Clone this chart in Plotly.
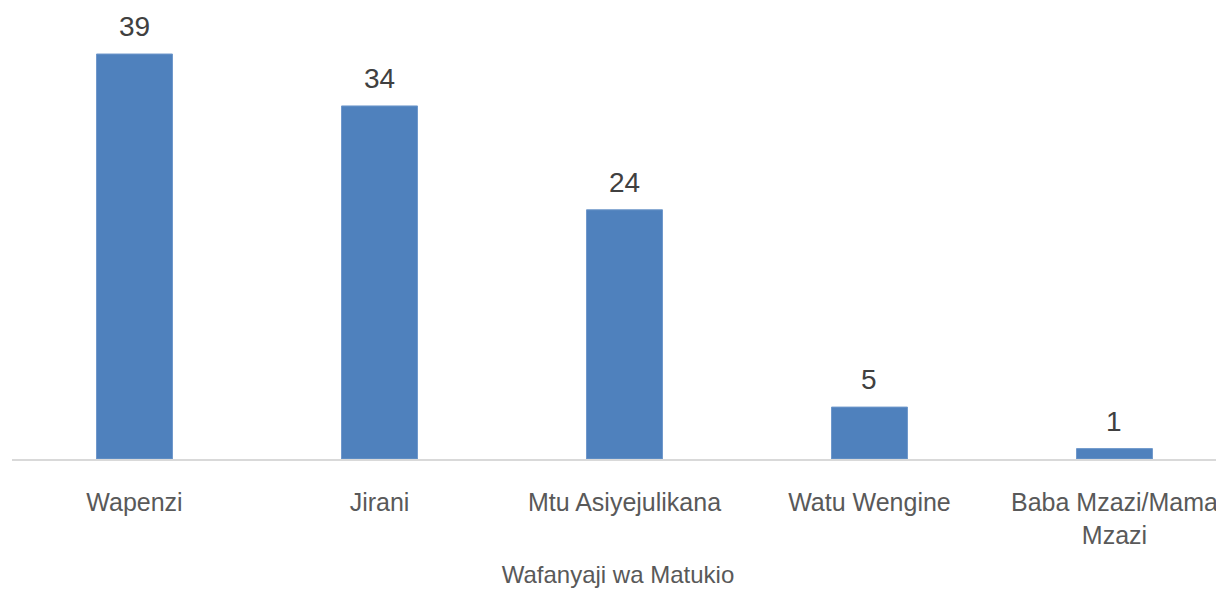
import plotly.graph_objects as go

categories = ["Wapenzi", "Jirani", "Mtu Asiyejulikana", "Watu Wengine", "Baba Mzazi/Mama<br>Mzazi"]
values = [39, 34, 24, 5, 1]
axis_title = "Wafanyaji wa Matukio"

FONT = "Liberation Sans, Arial, sans-serif"
TXT = "#595959"

fig = go.Figure()
fig.add_trace(go.Bar(
    x=categories, y=values, width=0.31,
    marker=dict(color="#4F81BD", line=dict(color="#6f98cb", width=1)),
    hoverinfo="skip",
))
for c, v in zip(categories, values):
    fig.add_annotation(x=c, y=v, text=str(v), showarrow=False, yanchor="bottom",
                       yshift=10, font=dict(family=FONT, size=28, color="#404040"))

fig.update_layout(
    width=1216, height=586,
    margin=dict(l=4, r=0, t=2, b=135),
    paper_bgcolor="white", plot_bgcolor="white",
    showlegend=False,
    font=dict(family=FONT, color=TXT),
    xaxis=dict(
        range=[-0.5, 4.447],
        showline=True, linecolor="#d9d9d9", linewidth=2,
        ticks="", showgrid=False, automargin=False,
        tickfont=dict(family=FONT, size=25, color=TXT),
        ticklabelstandoff=20,
        title=dict(text=axis_title, font=dict(family=FONT, size=24, color=TXT), standoff=19),
    ),
    yaxis=dict(range=[0, 43.24], visible=False, showgrid=False, zeroline=False, fixedrange=True),
)
fig.write_html("out.html")
